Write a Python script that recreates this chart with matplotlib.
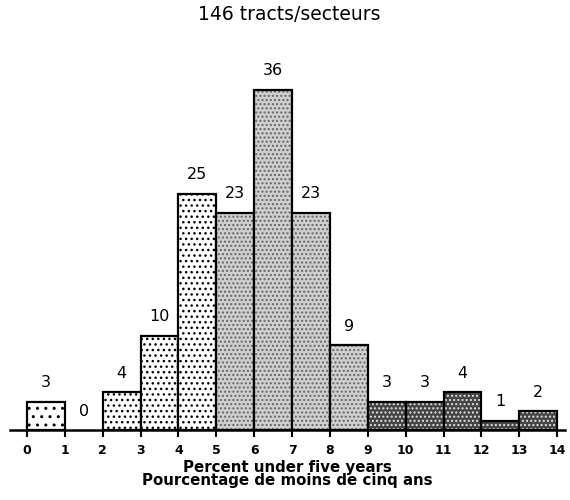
import matplotlib.pyplot as plt

plt.rcParams["font.family"] = "DejaVu Sans"
plt.rcParams["hatch.linewidth"] = 1.0

edges = list(range(0, 15))
counts = [3, 0, 4, 10, 25, 23, 36, 23, 9, 3, 3, 4, 1, 2]
title = "146 tracts/secteurs"
xlabel = "Percent under five years\nPourcentage de moins de cinq ans"

# shading groups: sparse dots, dots, grey stipple, dark stipple
face = ["white"] + ["white"] * 4 + ["#cfcfcf"] * 4 + ["#444444"] * 5
hatch = [".."] + ["..."] * 4 + ["...."] * 4 + ["...."] * 5
hcol = ["black"] * 5 + ["#666666"] * 4 + ["#e0e0e0"] * 5

fig = plt.figure(figsize=(5.7, 5.0), dpi=100)
ax = fig.add_axes([0.0175, 0.14, 0.974, 0.756])

for i, c in enumerate(counts):
    if c > 0:
        ax.bar(edges[i], c, width=1, align="edge", color=face[i],
               hatch=hatch[i], edgecolor=hcol[i], linewidth=0)
        ax.bar(edges[i], c, width=1, align="edge", fill=False,
               edgecolor="black", linewidth=1.6)
    ax.text(edges[i] + 0.5, c + 2.0, str(c), ha="center", va="center",
            fontsize=11.5)

ax.set_xlim(-0.45, 14.21)
ax.set_ylim(0, 40)
ax.set_xticks(edges)
ax.set_xticklabels([str(e) for e in edges], fontweight="bold", fontsize=9)
ax.set_yticks([])
ax.tick_params(axis="x", direction="out", length=5, width=1.5, pad=5)

for s in ["top", "right", "left"]:
    ax.spines[s].set_visible(False)
ax.spines["bottom"].set_linewidth(1.8)

ax.set_xlabel(xlabel, fontweight="bold", fontsize=10.8, linespacing=0.9,
              labelpad=2)
fig.text(0.508, 0.97, title, ha="center", va="center", fontsize=13.5)

fig.savefig("out.png", dpi=100, facecolor="white")
